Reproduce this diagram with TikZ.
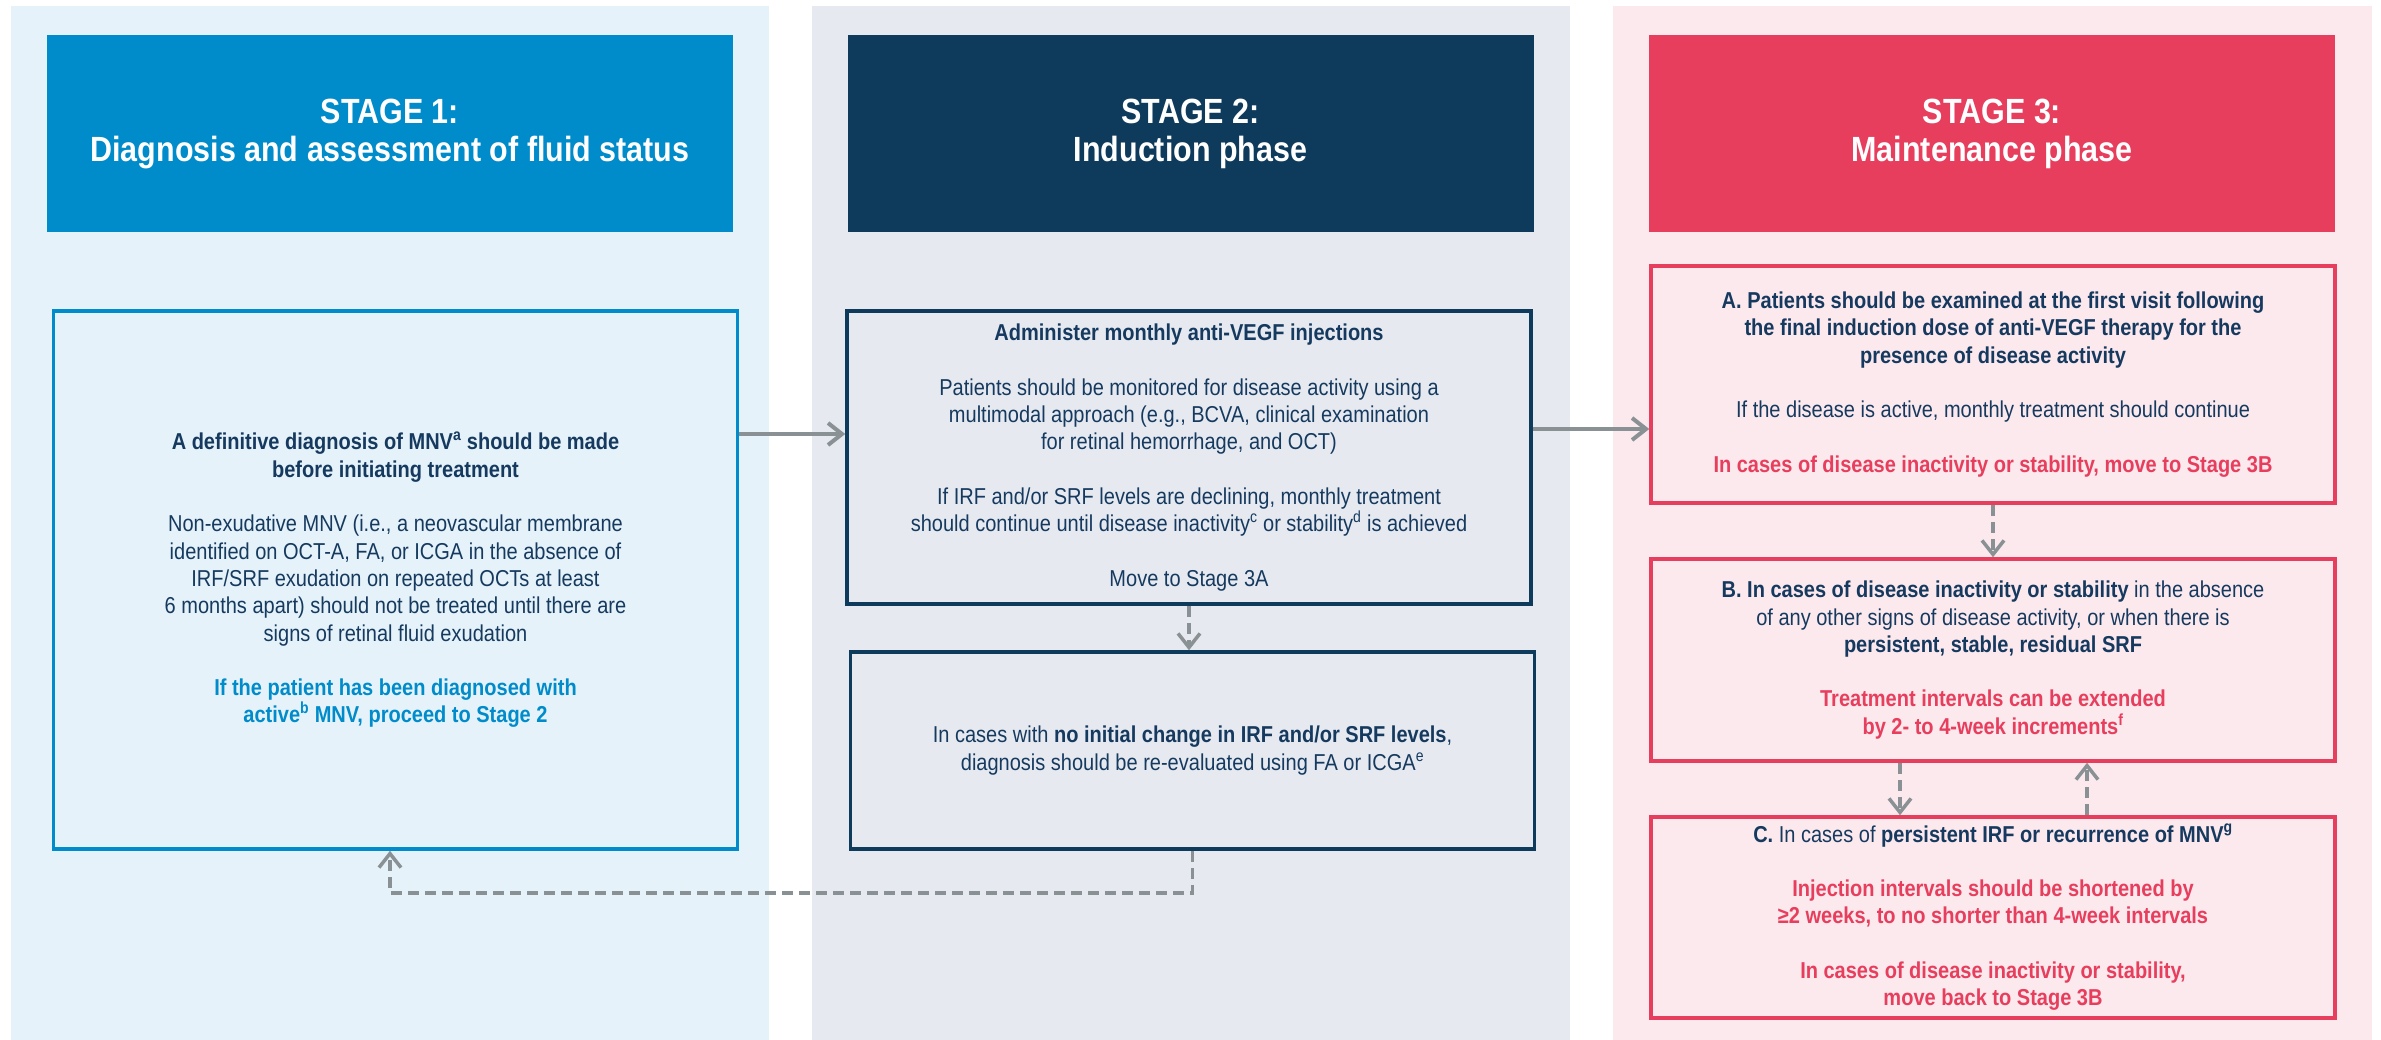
\documentclass[tikz,border=0pt]{standalone}
\usepackage{fontspec}
\setmainfont{Liberation Sans}[FakeStretch=0.87]
\usepackage{tikz}
\usetikzlibrary{arrows.meta}
\definecolor{PaleBlue}{HTML}{E5F2F9}
\definecolor{PaleSlate}{HTML}{E6EAF0}
\definecolor{PaleRose}{HTML}{FCE9ED}
\definecolor{Azure}{HTML}{008BCA}
\definecolor{Navy}{HTML}{0E3A5C}
\definecolor{Rose}{HTML}{E83E5E}
\definecolor{Ink}{HTML}{163A5F}
\definecolor{Pewter}{HTML}{8A9194}
\newcommand{\rosetext}[1]{\textcolor{Rose}{\textbf{#1}}}
\newcommand{\azuretext}[1]{\textcolor{Azure}{\textbf{#1}}}

\begin{document}
\begin{tikzpicture}[x=1pt,y=-1pt,
  stagehead/.style={fill=#1,text=white,font=\fontsize{35}{38}\selectfont\bfseries,align=center,minimum width=686pt,minimum height=197pt,inner sep=0pt},
  stepbox/.style={draw=#1,line width=3.5pt,align=center,font=\fontsize{23}{27.3}\selectfont,text=Ink,minimum width=684pt,inner sep=0pt},
  flow/.style={draw=Pewter,line width=4pt,-{Straight Barb[length=14pt,width=22pt]}},
  backflow/.style={flow,line width=3.5pt,dash pattern=on 11pt off 6pt}]
\useasboundingbox (0,0) rectangle (2381,1040);
\fill[PaleBlue] (11,6) rectangle (769,1040);
\fill[PaleSlate] (812,6) rectangle (1570,1040);
\fill[PaleRose] (1613,6) rectangle (2372,1040);
\node[stagehead=Azure] (head1) at (390,133.5) {STAGE 1:\\Diagnosis and assessment of fluid status};
\node[stagehead=Navy] (head2) at (1190.5,133.5) {STAGE 2:\\Induction phase};
\node[stagehead=Rose] (head3) at (1992,133.5) {STAGE 3:\\Maintenance phase};
\node[stepbox=Azure,minimum height=538pt] (diag) at (395.5,580) {\textbf{A definitive diagnosis of MNV\textsuperscript{a} should be made}\\
\textbf{before initiating treatment}\\[27.3pt]
Non-exudative MNV (i.e., a neovascular membrane\\
identified on OCT-A, FA, or ICGA in the absence of\\
IRF/SRF exudation on repeated OCTs at least\\
6 months apart) should not be treated until there are\\
signs of retinal fluid exudation\\[27.3pt]
\azuretext{If the patient has been diagnosed with}\\
\azuretext{active\textsuperscript{b} MNV, proceed to Stage 2}};
\node[stepbox=Navy,minimum height=293pt] (induct) at (1189,457.5) {\textbf{Administer monthly anti-VEGF injections}\\[27.3pt]
Patients should be monitored for disease activity using a\\
multimodal approach (e.g., BCVA, clinical examination\\
for retinal hemorrhage, and OCT)\\[27.3pt]
If IRF and/or SRF levels are declining, monthly treatment\\
should continue until disease inactivity\textsuperscript{c} or stability\textsuperscript{d} is achieved\\[27.3pt]
Move to Stage 3A};
\node[stepbox=Navy,minimum height=197pt] (noresp) at (1192.5,750.5) {In cases with \textbf{no initial change in IRF and/or SRF levels},\\
diagnosis should be re-evaluated using FA or ICGA\textsuperscript{e}};
\node[stepbox=Rose,minimum height=237pt] (maintA) at (1993,384.5) {\textbf{A. Patients should be examined at the first visit following}\\
\textbf{the final induction dose of anti-VEGF therapy for the}\\
\textbf{presence of disease activity}\\[27.3pt]
If the disease is active, monthly treatment should continue\\[27.3pt]
\rosetext{In cases of disease inactivity or stability, move to Stage 3B}};
\node[stepbox=Rose,minimum height=202pt] (maintB) at (1993,660) {\textbf{B. In cases of disease inactivity or stability} in the absence\\
of any other signs of disease activity, or when there is\\
\textbf{persistent, stable, residual SRF}\\[27.3pt]
\rosetext{Treatment intervals can be extended}\\
\rosetext{by 2- to 4-week increments\textsuperscript{f}}};
\node[stepbox=Rose,minimum height=201pt] (maintC) at (1993,917.5) {\textbf{C.} In cases of \textbf{persistent IRF or recurrence of MNV\textsuperscript{g}}\\[27.3pt]
\rosetext{Injection intervals should be shortened by}\\
\rosetext{≥2 weeks, to no shorter than 4-week intervals}\\[27.3pt]
\rosetext{In cases of disease inactivity or stability,}\\
\rosetext{move back to Stage 3B}};
\draw[flow] (diag.east |- 0,434) -- (induct.west |- 0,434);
\draw[flow] (induct.east |- 0,429) -- (maintA.west |- 0,429);
\draw[backflow] (induct.south) -- (induct.south |- noresp.north);
\draw[backflow] (noresp.south) |- (390,893) -- (diag.south -| 390,0);
\draw[backflow] (maintA.south) -- (maintB.north);
\draw[backflow] (maintB.south -| 1900,0) -- (maintC.north -| 1900,0);
\draw[backflow] (maintC.north -| 2087,0) -- (maintB.south -| 2087,0);
\end{tikzpicture}
\end{document}
